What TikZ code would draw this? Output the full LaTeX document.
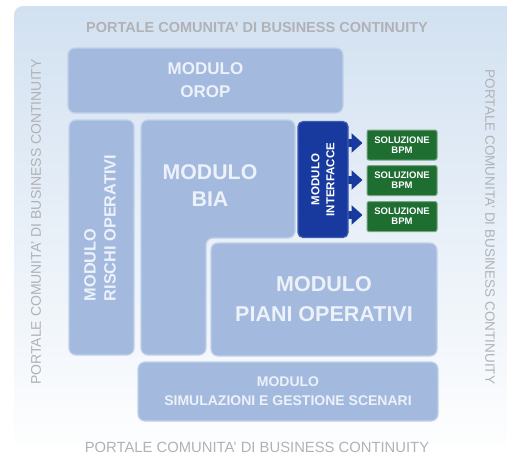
\documentclass[tikz,border=0pt]{standalone}
\usepackage{fontspec}
\setmainfont{Liberation Sans}
\usetikzlibrary{arrows.meta}
\definecolor{panel}{RGB}{210,225,241}
\definecolor{modfill}{RGB}{163,186,222}
\definecolor{modedge}{RGB}{192,208,234}
\definecolor{modtext}{RGB}{236,241,250}
\definecolor{intfill}{RGB}{24,58,158}
\definecolor{intedge}{RGB}{60,92,180}
\definecolor{bpmfill}{RGB}{30,110,50}
\definecolor{bpmedge}{RGB}{120,165,128}
\definecolor{portal}{RGB}{176,178,182}

\begin{document}
\begin{tikzpicture}[x=1pt,y=-1pt]
\tikzset{module/.style = {draw=modedge, fill=modfill, line width=1.2pt, rounded corners=7pt,
  text=modtext, font=\bfseries, align=center, inner sep=0pt}}
\tikzset{portal/.style = {text=portal, inner sep=0pt}}
\tikzset{bpm/.style = {draw=bpmedge, fill=bpmfill, line width=1pt, rounded corners=2pt,
  minimum width=70pt, minimum height=30pt, text=white, align=center, inner sep=0pt,
  font=\bfseries\fontsize{9.5}{10}\selectfont}}
\tikzset{link/.style = {draw=intfill, line width=8pt, -{Triangle[width=19pt,length=11pt]}, shorten >=4pt}}
\useasboundingbox (0,0) rectangle (507,464);
% background
\shade[top color=panel, bottom color=white!96!panel, rounded corners=9pt] (14,6) rectangle (530,445);
% portal labels
\node[portal, font=\bfseries\fontsize{14.5}{16}\selectfont] (ptop) at (257,28) {PORTALE COMUNITA' DI BUSINESS CONTINUITY};
\node[portal, font=\fontsize{14.8}{16}\selectfont] (pbot) at (257,447) {PORTALE COMUNITA' DI BUSINESS CONTINUITY};
\node[portal, font=\fontsize{14}{16}\selectfont, rotate=90] (pleft) at (36,222) {PORTALE COMUNITA' DI BUSINESS CONTINUITY};
\node[portal, font=\fontsize{13.5}{16}\selectfont, rotate=-90] (pright) at (490,227) {PORTALE COMUNITA' DI BUSINESS CONTINUITY};
% modules
\node[module, minimum width=275pt, minimum height=65pt, font=\bfseries\fontsize{17}{23}\selectfont] (orop) at (205.5,80.5) {MODULO\\OROP};
\node[module, rotate=90, minimum width=235pt, minimum height=65pt] (rischi) at (101.5,237.5) {};
\node[text=modtext, rotate=90, align=left, inner sep=0pt, font=\bfseries\fontsize{16.3}{20}\selectfont] (rischitxt) at (100,228) {MODULO\\RISCHI OPERATIVI};
\draw[module] (141,120) -- (295,120) -- (295,238) -- (206,238) -- (206,355) -- (141,355) -- cycle;
\node[text=modtext, align=center, font=\bfseries\fontsize{21.3}{27}\selectfont] (bia) at (210,186) {MODULO\\BIA};
\node[module, minimum width=226pt, minimum height=113pt, font=\bfseries\fontsize{21.5}{30}\selectfont] (piani) at (324,299.5) {MODULO\\PIANI OPERATIVI};
\node[module, minimum width=300pt, minimum height=59pt, font=\bfseries\fontsize{14}{19}\selectfont] (simul) at (288,391.5) {MODULO\\SIMULAZIONI E GESTIONE SCENARI};
% interfaces
\node[bpm] (sol1) at (402,145) {SOLUZIONE\\BPM};
\node[bpm] (sol2) at (402,180.5) {SOLUZIONE\\BPM};
\node[bpm] (sol3) at (402,216.5) {SOLUZIONE\\BPM};
\coordinate (a1) at (340,143);
\coordinate (a2) at (340,180);
\coordinate (a3) at (340,215);
\draw[link] (a1) -- (a1 -| sol1.west);
\draw[link] (a2) -- (a2 -| sol2.west);
\draw[link] (a3) -- (a3 -| sol3.west);
\node[module, draw=intedge, fill=intfill, text=white, rotate=90, minimum width=116pt, minimum height=50pt, rounded corners=5pt, font=\bfseries\fontsize{11.5}{15}\selectfont] (intf) at (323,179.5) {MODULO\\INTERFACCE};
\end{tikzpicture}
\end{document}
